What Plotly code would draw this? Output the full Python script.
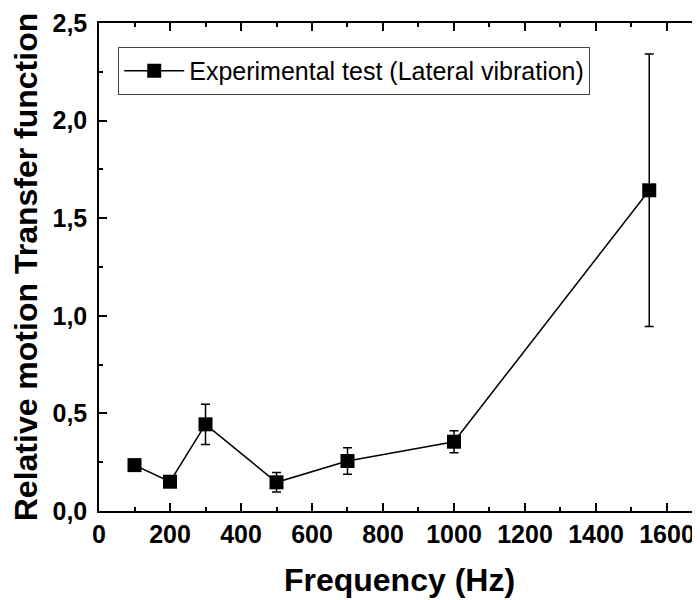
import plotly.graph_objects as go

freq = [100, 200, 300, 500, 700, 1000, 1550]
transfer = [0.235, 0.150, 0.444, 0.147, 0.256, 0.355, 1.643]
err = [0.02, 0.02, 0.103, 0.05, 0.068, 0.056, 0.698]

x_ticks = [0, 200, 400, 600, 800, 1000, 1200, 1400, 1600]
y_ticks = [0.0, 0.5, 1.0, 1.5, 2.0, 2.5]

FONT = "Liberation Sans, Arial, sans-serif"

fig = go.Figure()
fig.add_trace(go.Scatter(
    x=freq, y=transfer, mode="lines+markers",
    name="Experimental test (Lateral vibration)",
    line=dict(color="black", width=1.5),
    marker=dict(symbol="square", size=14, color="black"),
    error_y=dict(type="data", array=err, visible=True, color="black", thickness=1.5, width=4.5),
))
# invisible trace to host the right-hand tick axis
fig.add_trace(go.Scatter(x=freq, y=transfer, yaxis="y2", mode="lines",
                         line=dict(width=0), opacity=0, showlegend=False, hoverinfo="skip"))

tickfont = dict(family=FONT, size=25, color="black", weight="bold")

fig.update_layout(
    width=700, height=600,
    margin=dict(l=91, r=8, t=15, b=97),
    paper_bgcolor="white", plot_bgcolor="white",
    separators=",.",
    showlegend=True,
    legend=dict(x=0.032, y=0.951, xanchor="left", yanchor="top",
                bordercolor="#444", borderwidth=1, bgcolor="white", itemwidth=60,
                font=dict(family=FONT, size=25, color="black")),
    xaxis=dict(range=[0, 1693], tickvals=x_ticks, ticktext=[str(v) for v in x_ticks],
               ticks="inside", ticklen=8, tickwidth=1.5, tickcolor="black",
               minor=dict(dtick=100, ticks="inside", ticklen=4, tickwidth=1.5, tickcolor="black"),
               showline=True, linecolor="black", linewidth=1.5, mirror="ticks",
               showgrid=False, zeroline=False, tickfont=tickfont, automargin=False,
               title=dict(text="Frequency (Hz)", font=dict(family=FONT, size=32, color="black", weight="bold"),
                          standoff=22)),
    yaxis=dict(range=[0, 2.5], tickvals=y_ticks, tickformat=".1f",
               ticks="inside", ticklen=8, tickwidth=1.5, tickcolor="black",
               minor=dict(dtick=0.25, ticks="inside", ticklen=4, tickwidth=1.5, tickcolor="black"),
               showline=True, linecolor="black", linewidth=1.5, mirror=False,
               showgrid=False, zeroline=False, tickfont=tickfont, ticklabelstandoff=5, automargin=False,
               title=dict(text="Relative motion Transfer function",
                          font=dict(family=FONT, size=32, color="black", weight="bold"), standoff=8)),
    yaxis2=dict(range=[0, 2.5], overlaying="y", side="right", tickvals=y_ticks,
                ticks="inside", ticklen=8, tickwidth=1.5, tickcolor="black",
                minor=dict(dtick=0.25, ticks="inside", ticklen=4, tickwidth=1.5, tickcolor="black"),
                showline=False, showgrid=False, zeroline=False, showticklabels=False, automargin=False),
)

fig.write_html("out.html")
